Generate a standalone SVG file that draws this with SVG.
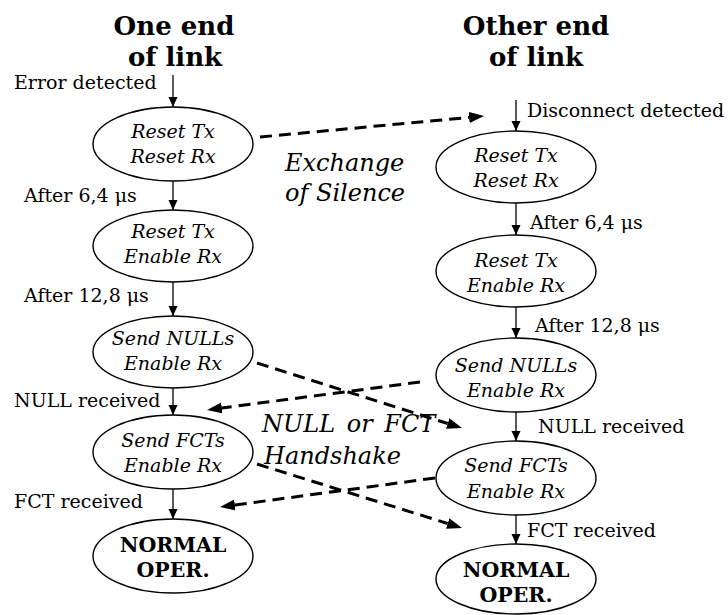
<svg xmlns="http://www.w3.org/2000/svg" width="728" height="615" viewBox="0 0 728 615">
<style>
  .bg { fill: #ffffff; }
  .node ellipse { fill: #ffffff; stroke: #000000; stroke-width: 1.4; }
  .st { font-family: "DejaVu Serif", "Liberation Serif", serif; font-size: 19px; font-style: italic; fill: #000; text-anchor: middle; }
  .bst { font-family: "DejaVu Serif", "Liberation Serif", serif; font-size: 20.5px; font-weight: bold; fill: #000; text-anchor: middle; }
  .title { font-family: "DejaVu Serif", "Liberation Serif", serif; font-size: 26px; font-weight: bold; fill: #000; text-anchor: middle; }
  .lbl { font-family: "DejaVu Serif", "Liberation Serif", serif; font-size: 19px; fill: #000; }
  .big { font-family: "DejaVu Serif", "Liberation Serif", serif; font-size: 24px; font-style: italic; fill: #000; }
  .solid { stroke: #000; stroke-width: 1.3; fill: none; marker-end: url(#ah); }
  .dash { stroke: #000; stroke-width: 3; stroke-dasharray: 12 7; fill: none; marker-end: url(#dh); }
</style>
<defs>
  <marker id="ah" markerUnits="userSpaceOnUse" markerWidth="11" markerHeight="10" refX="10" refY="4.5" orient="auto">
    <path d="M0,0 L10,4.5 L0,9 z" fill="#000"/>
  </marker>
  <marker id="dh" markerUnits="userSpaceOnUse" markerWidth="16" markerHeight="12" refX="0" refY="5.5" orient="auto">
    <path d="M0,0 L15,5.5 L0,11 z" fill="#000"/>
  </marker>
</defs>
<rect class="bg" x="0" y="0" width="728" height="615"/>

<g id="titles">
  <text class="title" x="174" y="35">One end</text>
  <text class="title" x="175" y="66">of link</text>
  <text class="title" x="536" y="35">Other end</text>
  <text class="title" x="536" y="66">of link</text>
</g>

<g id="labels">
  <text class="lbl" x="14" y="89">Error detected</text>
  <text class="lbl" x="24" y="202">After 6,4 μs</text>
  <text class="lbl" x="24" y="302">After 12,8 μs</text>
  <text class="lbl" x="14" y="407">NULL received</text>
  <text class="lbl" x="14" y="508">FCT received</text>
  <text class="lbl" x="527" y="117">Disconnect detected</text>
  <text class="lbl" x="530" y="229">After 6,4 μs</text>
  <text class="lbl" x="535" y="332">After 12,8 μs</text>
  <text class="lbl" x="538" y="433">NULL received</text>
  <text class="lbl" x="527" y="537">FCT received</text>
  <text class="big" x="285" y="171">Exchange</text>
  <text class="big" x="285" y="201">of Silence</text>
  <text class="big" x="262" y="432" word-spacing="4">NULL or FCT</text>
  <text class="big" x="264" y="464">Handshake</text>
</g>

<g id="L1" class="node">
  <ellipse cx="173" cy="144" rx="80" ry="37"/>
  <text class="st" x="173" y="138">Reset Tx</text>
  <text class="st" x="173" y="163">Reset Rx</text>
</g>
<g id="L2" class="node">
  <ellipse cx="173" cy="246" rx="80" ry="36"/>
  <text class="st" x="173" y="238">Reset Tx</text>
  <text class="st" x="173" y="263">Enable Rx</text>
</g>
<g id="L3" class="node">
  <ellipse cx="173" cy="352" rx="80" ry="36"/>
  <text class="st" x="173" y="345">Send NULLs</text>
  <text class="st" x="173" y="370">Enable Rx</text>
</g>
<g id="L4" class="node">
  <ellipse cx="173" cy="452" rx="80" ry="37"/>
  <text class="st" x="173" y="447">Send FCTs</text>
  <text class="st" x="173" y="472">Enable Rx</text>
</g>
<g id="L5" class="node">
  <ellipse cx="173" cy="556" rx="80" ry="37"/>
  <text class="bst" x="173" y="552">NORMAL</text>
  <text class="bst" x="173" y="577">OPER.</text>
</g>

<g id="R1" class="node">
  <ellipse cx="516" cy="167" rx="80" ry="36"/>
  <text class="st" x="516" y="162">Reset Tx</text>
  <text class="st" x="516" y="187">Reset Rx</text>
</g>
<g id="R2" class="node">
  <ellipse cx="516" cy="271" rx="80" ry="36"/>
  <text class="st" x="516" y="267">Reset Tx</text>
  <text class="st" x="516" y="292">Enable Rx</text>
</g>
<g id="R3" class="node">
  <ellipse cx="516" cy="375" rx="80" ry="37"/>
  <text class="st" x="516" y="372">Send NULLs</text>
  <text class="st" x="516" y="397">Enable Rx</text>
</g>
<g id="R4" class="node">
  <ellipse cx="516" cy="478" rx="80" ry="37"/>
  <text class="st" x="516" y="472">Send FCTs</text>
  <text class="st" x="516" y="498">Enable Rx</text>
</g>
<g id="R5" class="node">
  <ellipse cx="516" cy="579" rx="80" ry="35"/>
  <text class="bst" x="516" y="577">NORMAL</text>
  <text class="bst" x="516" y="602">OPER.</text>
</g>

<g id="connectors">
  <line class="solid" x1="173" y1="75" x2="173" y2="107"/>
  <line class="solid" x1="173" y1="181" x2="173" y2="210"/>
  <line class="solid" x1="173" y1="282" x2="173" y2="316"/>
  <line class="solid" x1="173" y1="388" x2="173" y2="415"/>
  <line class="solid" x1="173" y1="489" x2="173" y2="519"/>
  <line class="solid" x1="516" y1="100" x2="516" y2="131"/>
  <line class="solid" x1="516" y1="203" x2="516" y2="235"/>
  <line class="solid" x1="516" y1="307" x2="516" y2="338"/>
  <line class="solid" x1="516" y1="412" x2="516" y2="441"/>
  <line class="solid" x1="516" y1="515" x2="516" y2="544"/>
  <line class="dash" x1="260" y1="137" x2="469.1" y2="117.4"/>
  <line class="dash" x1="257" y1="363" x2="447.7" y2="423.5"/>
  <line class="dash" x1="420" y1="382" x2="221.9" y2="408"/>
  <line class="dash" x1="257" y1="464" x2="447.7" y2="523.5"/>
  <line class="dash" x1="435" y1="478" x2="234.9" y2="505"/>
</g>
</svg>
